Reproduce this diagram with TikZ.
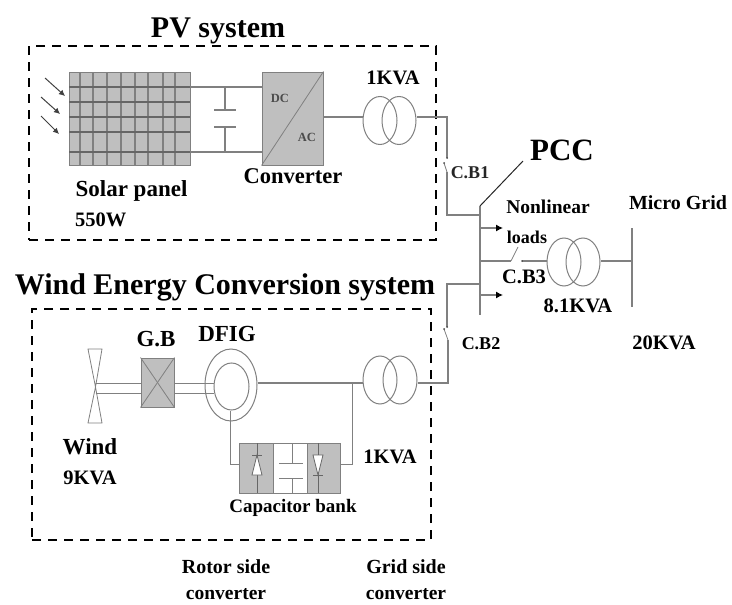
\documentclass[tikz,border=0pt]{standalone}
\usepackage{fontspec}
\setmainfont{Liberation Serif}
\usetikzlibrary{shapes.geometric,arrows.meta}
\definecolor{wire}{gray}{0.5}
\definecolor{boxfill}{gray}{0.75}

\begin{document}
\begin{tikzpicture}[
    x=1pt,y=-1pt,
    wire/.style={draw=wire, line width=1.1pt},
    thin wire/.style={draw=wire, line width=0.8pt},
    frame/.style={draw, dashed, line width=1.4pt, dash pattern=on 9pt off 7pt},
    grey box/.style={draw=wire, fill=boxfill, line width=1pt, inner sep=0pt},
    winding/.style={draw=wire, ellipse, line width=1pt, inner sep=0pt, minimum width=34pt, minimum height=48pt},
    head/.style={font=\bfseries\fontsize{30}{30}\selectfont, inner sep=0pt},
    big/.style={font=\bfseries\fontsize{23}{23}\selectfont, inner sep=0pt},
    lab/.style={font=\bfseries\fontsize{20.5}{20.5}\selectfont, inner sep=0pt},
    small/.style={font=\bfseries\fontsize{18}{18}\selectfont, inner sep=0pt},
    tiny lab/.style={font=\bfseries\fontsize{12.5}{12.5}\selectfont, inner sep=0pt},
    load/.style={-{Latex[length=7pt,width=7pt,black]}, wire},
    ray/.style={-{Latex[length=6pt,width=6pt]}, line width=1pt, draw=black!75}
]
\useasboundingbox (0,0) rectangle (732,605);

\node[frame, minimum width=407pt, minimum height=194pt, inner sep=0pt] (pvframe) at (232.5,143) {};
\node[frame, minimum width=399pt, minimum height=231pt, inner sep=0pt] (windframe) at (231.5,424.5) {};

\node[head] (pvtitle) at (218,31) {PV system};
\node[head] (windtitle) at (225,287) {Wind Energy Conversion system};
\node[head, font=\bfseries\fontsize{31}{31}\selectfont] (pcc) at (562,150) {PCC};

\node[grey box, minimum width=121pt, minimum height=93pt] (panel) at (129.5,118.5) {};
\foreach \x in {80,93,107,121,135,148,163,175}
    \draw[thin wire, line width=1.2pt] (\x,72) -- (\x,165);
\foreach \y in {87,102,117,132,152}
    \draw[thin wire, line width=1.2pt, draw=black!60] (69,\y) -- (190,\y);

\coordinate (r1a) at (45,78);  \coordinate (r1b) at (65,96);
\coordinate (r2a) at (41,97);  \coordinate (r2b) at (60,114);
\coordinate (r3a) at (41,116); \coordinate (r3b) at (59,134);
\draw[ray] (r1a) -- (r1b);
\draw[ray] (r2a) -- (r2b);
\draw[ray] (r3a) -- (r3b);

\node[grey box, minimum width=61pt, minimum height=93pt] (conv) at (292.5,118.5) {};
\draw[thin wire] (conv.south west) -- (conv.north east);
\node[tiny lab, text=black!70] (dc) at (280,98) {DC};
\node[tiny lab, text=black!70] (ac) at (307,137) {AC};

\coordinate (c1) at (225,87);   \coordinate (c1t) at (225,110);
\coordinate (c2) at (225,152);  \coordinate (c2t) at (225,127);
\draw[wire] (190,87) -- (c1) -- (262,87);
\draw[wire] (190,152) -- (c2) -- (262,152);
\draw[wire] (c1) -- (c1t);
\draw[wire] (c2) -- (c2t);
\draw[wire] (214,110) -- (236,110);
\draw[wire] (214,127) -- (236,127);

\node[winding] (t1a) at (380,120.5) {};
\node[winding] (t1b) at (399,120.5) {};
\draw[wire] (conv.east |- 0,117) -- (t1a.west |- 0,117);
\coordinate (b1) at (447,117);
\coordinate (s1) at (447,158);
\coordinate (s1a) at (444,163);
\coordinate (s1b) at (447,172);
\coordinate (b2) at (447,215);
\coordinate (bus1) at (480,215);
\draw[wire] (t1b.east |- 0,117) -- (b1) -- (s1);
\draw[thin wire] (s1a) -- (s1b);
\draw[wire] (s1b) -- (b2) -- (bus1);
\fill[black!70] (s1) circle (1pt) (s1a) circle (1pt);

\node[small, text=black!85] (cb1) at (470,173) {C.B1};
\node[lab, font=\bfseries\fontsize{19.5}{19.5}\selectfont] (nonlin) at (548,207) {Nonlinear};
\node[small] (loads) at (527,237) {loads};
\node[lab] (cb3) at (524,277) {C.B3};
\node[lab] (kva8) at (578,306) {8.1KVA};
\node[lab, font=\bfseries\fontsize{20}{20}\selectfont] (micro) at (678,203) {Micro Grid};
\node[lab] (kva20) at (664,343) {20KVA};
\node[small] (cb2) at (481,344) {C.B2};

\coordinate (bustop) at (480,206);
\coordinate (busend) at (480,315);
\coordinate (pcctip) at (523,161);
\draw[wire] (bustop) -- (busend);
\draw[line width=1pt, black!85] (bustop) -- (pcctip);

\coordinate (l1a) at (480,228); \coordinate (l1b) at (503,228);
\coordinate (l2a) at (480,295); \coordinate (l2b) at (503,295);
\draw[load] (l1a) -- (l1b);
\draw[load] (l2a) -- (l2b);

\node[winding] (t3a) at (564,262) {};
\node[winding] (t3b) at (583,262) {};
\coordinate (s3a) at (480,261);
\coordinate (s3b) at (511,261);
\coordinate (s3c) at (518,247);
\coordinate (s3d) at (522,261);
\coordinate (gridbus) at (632,261);
\coordinate (gridtop) at (632,228);
\coordinate (gridbot) at (632,307);
\draw[wire] (s3a) -- (s3b);
\draw[thin wire] (s3b) -- (s3c);
\draw[wire] (s3d) -- (t3a.west |- s3d);
\fill[black!70] (s3d) circle (1pt);
\draw[wire] (t3b.east |- gridbus) -- (gridbus);
\draw[wire] (gridtop) -- (gridbot);

\coordinate (b3) at (480,284);
\coordinate (b4) at (447,284);
\coordinate (s2) at (447,327);
\coordinate (s2a) at (444,329);
\coordinate (s2b) at (448,340);
\coordinate (b5) at (448,383);
\draw[wire] (b3) -- (b4) -- (s2);
\draw[thin wire] (s2a) -- (s2b);
\fill[black!70] (s2) circle (1pt) (s2a) circle (1pt);

\node[winding] (t2a) at (380,380) {};
\node[winding] (t2b) at (400,380) {};
\draw[wire] (s2b) -- (b5) -- (t2b.east |- b5);

\coordinate (hub) at (95.5,387);
\draw[thin wire] (hub) -- (88,349) -- (102,349) -- cycle;
\draw[thin wire] (hub) -- (88,423) -- (102,423) -- cycle;

\node[grey box, minimum width=33pt, minimum height=49pt] (gb) at (157.5,382.5) {};
\draw[thin wire] (gb.north west) -- (gb.south east);
\draw[thin wire] (gb.south west) -- (gb.north east);

\node[draw=wire, ellipse, line width=1pt, inner sep=0pt, minimum width=52pt, minimum height=72pt] (dfigo) at (231,385) {};
\node[draw=wire, ellipse, line width=1pt, inner sep=0pt, minimum width=35pt, minimum height=47pt] (dfigi) at (231.5,386.5) {};

\draw[thin wire] (hub |- 0,383) -- (gb.west |- 0,383);
\draw[thin wire] (hub |- 0,393) -- (gb.west |- 0,393);
\draw[thin wire] (gb.east |- 0,383) -- (dfigi.west |- 0,383);
\draw[thin wire] (gb.east |- 0,393) -- (dfigi.west |- 0,393);

\coordinate (tap) at (352,383);
\draw[wire] (dfigo.east |- tap) -- (t2a.west |- tap);

\node[grey box, minimum width=101pt, minimum height=50pt] (bank) at (289.5,468) {};
\node[draw=wire, fill=white, line width=1pt, inner sep=0pt, minimum width=34pt, minimum height=50pt] (bankmid) at (290,468) {};
\coordinate (m1) at (292,443); \coordinate (m2) at (292,463);
\coordinate (m3) at (292,478); \coordinate (m4) at (292,493);
\draw[thin wire] (m1) -- (m2);
\draw[thin wire] (m3) -- (m4);
\draw[thin wire] (279,463) -- (303,463);
\draw[thin wire] (279,478) -- (303,478);

\foreach \x/\t/\b in {257/475/455, 318/455/475} {
    \draw[thin wire, draw=black!60] (\x,443) -- (\x,493);
    \draw[thin wire, draw=black!60, fill=white] (\x-5,\t) -- (\x+5,\t) -- (\x,\b) -- cycle;
    \draw[thin wire, draw=black!60] (\x-5,\b) -- (\x+5,\b);
}

\coordinate (rsc) at (230,464);
\coordinate (gsc) at (352,464);
\draw[thin wire] (dfigi.south -| rsc) -- (rsc) -- (bank.west |- rsc);
\draw[thin wire] (tap) -- (gsc) -- (bank.east |- gsc);

\node[big] (sollab) at (131.5,191) {Solar panel};
\node[lab, anchor=west] (pw) at (75,220) {550W};
\node[big, font=\bfseries\fontsize{22.5}{22.5}\selectfont] (convlab) at (293,176) {Converter};
\node[lab] (kva1) at (393,78) {1KVA};
\node[big] (gblab) at (156,339) {G.B};
\node[big] (dfiglab) at (227,334) {DFIG};
\node[big] (windlab) at (90,447) {Wind};
\node[lab] (kva9) at (90,478) {9KVA};
\node[lab] (kva2) at (390,457) {1KVA};
\node[lab, font=\bfseries\fontsize{19}{19}\selectfont] (banklab) at (293,508) {Capacitor bank};
\node[lab, font=\bfseries\fontsize{20}{20}\selectfont] (rotor1) at (226,567) {Rotor side};
\node[lab, font=\bfseries\fontsize{19.5}{19.5}\selectfont] (rotor2) at (226,594) {converter};
\node[lab, font=\bfseries\fontsize{20}{20}\selectfont] (grid1) at (406,567) {Grid side};
\node[lab, font=\bfseries\fontsize{19.5}{19.5}\selectfont] (grid2) at (406,594) {converter};
\end{tikzpicture}
\end{document}
